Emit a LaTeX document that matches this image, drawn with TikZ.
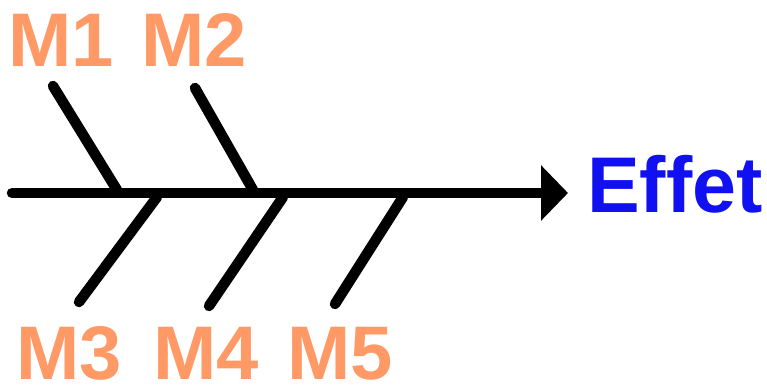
\documentclass[tikz,border=0pt]{standalone}
\usepackage{fontspec}
\setmainfont{Liberation Sans}
\usetikzlibrary{arrows.meta}
\definecolor{causecol}{HTML}{FF9966}
\definecolor{effectcol}{HTML}{1010F0}
\begin{document}
\begin{tikzpicture}[x=1pt,y=-1pt,
  bone/.style={line width=10.5pt,line cap=round},
  cause/.style={text=causecol,font=\fontsize{76}{76}\selectfont\bfseries,inner sep=0pt,anchor=base},
  effect/.style={text=effectcol,font=\fontsize{79}{79}\selectfont\bfseries,inner sep=0pt,anchor=base}]
\useasboundingbox (0,0) rectangle (767,387);
% spine and effect
\coordinate (tail) at (12,193);
\coordinate (head) at (568,193);
\node[effect] (effet) at (675,212) {Effet};
\draw[bone,-{Triangle[length=27pt,width=54pt]}] (tail) -- (head);
% upper bones
\coordinate (j1) at (117,190);
\coordinate (e1) at (53,86);
\coordinate (j2) at (253,190);
\coordinate (e2) at (195,88);
% lower bones
\coordinate (j3) at (157,197);
\coordinate (e3) at (79,302);
\coordinate (j4) at (283,197);
\coordinate (e4) at (209,306);
\coordinate (j5) at (403,197);
\coordinate (e5) at (335,304);
\foreach \i in {1,...,5}{\draw[bone] (e\i) -- (j\i);}
% cause labels
\node[cause] (m1) at (61,67) {M1};
\node[cause] (m2) at (194,67) {M2};
\node[cause] (m3) at (69,379) {M3};
\node[cause] (m4) at (206,379) {M4};
\node[cause] (m5) at (340,379) {M5};
\end{tikzpicture}
\end{document}
